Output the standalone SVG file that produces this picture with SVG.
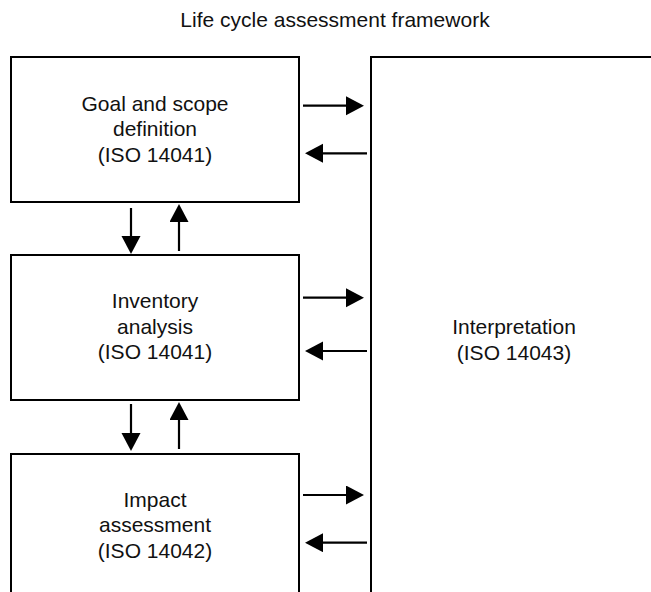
<svg xmlns="http://www.w3.org/2000/svg" width="651" height="592" viewBox="0 0 651 592">
  <style>
    .box { fill: #ffffff; stroke: #000000; stroke-width: 2; }
    .label { font-family: "Liberation Sans", Arial, sans-serif; font-size: 21px; fill: #111111; text-anchor: middle; }
    .flow { stroke: #000000; stroke-width: 2.2; fill: none; marker-end: url(#head); }
  </style>
  <defs>
    <marker id="head" markerUnits="userSpaceOnUse" markerWidth="20" markerHeight="20" refX="0" refY="9.5" orient="auto">
      <path d="M0,0 L18,9.5 L0,19 Z" fill="#000000"/>
    </marker>
  </defs>
  <rect width="651" height="592" fill="#ffffff"/>

  <text class="label" x="335" y="27">Life cycle assessment framework</text>

  <g id="goal-scope">
    <rect class="box" x="11" y="57" width="288" height="145"/>
    <text class="label" x="155" y="110.5">Goal and scope</text>
    <text class="label" x="155" y="136">definition</text>
    <text class="label" x="155" y="161.5">(ISO 14041)</text>
  </g>

  <g id="inventory">
    <rect class="box" x="11" y="255" width="288" height="145"/>
    <text class="label" x="155" y="308">Inventory</text>
    <text class="label" x="155" y="333.5">analysis</text>
    <text class="label" x="155" y="359">(ISO 14041)</text>
  </g>

  <g id="impact">
    <rect class="box" x="11" y="454" width="288" height="145"/>
    <text class="label" x="155" y="506.5">Impact</text>
    <text class="label" x="155" y="532">assessment</text>
    <text class="label" x="155" y="557.5">(ISO 14042)</text>
  </g>

  <g id="interpretation">
    <rect class="box" x="371" y="57" width="300" height="560"/>
    <text class="label" x="514" y="334">Interpretation</text>
    <text class="label" x="514" y="359.5">(ISO 14043)</text>
  </g>

  <g id="connectors">
    <!-- stage to interpretation and back -->
    <line class="flow" x1="303" y1="105.7" x2="346" y2="105.7"/>
    <line class="flow" x1="367" y1="153.3" x2="323" y2="153.3"/>
    <line class="flow" x1="303" y1="297.7" x2="346" y2="297.7"/>
    <line class="flow" x1="367" y1="351" x2="323" y2="351"/>
    <line class="flow" x1="303" y1="495" x2="346" y2="495"/>
    <line class="flow" x1="367" y1="542.7" x2="323" y2="542.7"/>
    <!-- between stages -->
    <line class="flow" x1="131" y1="208" x2="131" y2="236"/>
    <line class="flow" x1="179" y1="251" x2="179" y2="222"/>
    <line class="flow" x1="131" y1="404" x2="131" y2="433"/>
    <line class="flow" x1="179" y1="449" x2="179" y2="420"/>
  </g>
</svg>
